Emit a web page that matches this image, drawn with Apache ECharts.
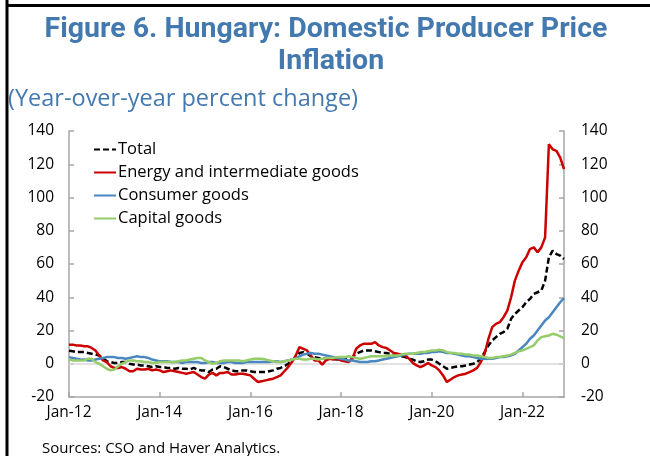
<!DOCTYPE html>
<html>
<head>
<meta charset="utf-8">
<script src="https://cdn.jsdelivr.net/npm/echarts@6/dist/echarts.min.js"></script>
<style>
html,body{margin:0;padding:0;background:#fff;}
#chart{width:650px;height:456px;}
</style>
</head>
<body>
<div id="chart"></div>
<script>
// Monthly, Jan-2012 .. Dec-2022
const startYear = 2012, endYear = 2022;
const monthNames = ["Jan","Feb","Mar","Apr","May","Jun","Jul","Aug","Sep","Oct","Nov","Dec"];
const categories = [];
for (let y = startYear; y <= endYear; y++) {
  for (let m = 0; m < 12; m++) categories.push(monthNames[m] + "-" + String(y).slice(2));
}
const xTickLabels = ["Jan-12","Jan-14","Jan-16","Jan-18","Jan-20","Jan-22"];
const yTicks = [-20, 0, 20, 40, 60, 80, 100, 120, 140];

const total = [
 7.8,7.5,7,7,7,6.5,6,5.5,5,3.5,1.5,1,
 0.5,0.5,1,1,0,-0.5,-0.5,-1,-1,-1.5,-2,-1.5,
 -2,-2,-2.5,-2.5,-3,-2.5,-3,-3,-3.5,-2.5,-3.5,-4,
 -4,-5,-3.5,-3,-1.5,-2,-3,-4,-4.5,-4.5,-4,-4,
 -4.5,-5,-5,-5,-5,-4.5,-4,-3,-2.5,-1.5,0,2,
 4,6.5,7,6,4.5,4,3.5,3,3.5,3.5,3,2.5,
 3,3.5,3.5,4,6,7,8,8,8,7.5,7,6.5,
 6.5,6,5.5,5,4.5,4,3,2.5,1.5,1,1.5,2.5,
 2.5,1.5,0,-1.5,-3,-2.5,-2,-1.5,-1.5,-1,-0.5,0,
 1,3,7,11,14,16,18,19,21,27,30,32,
 34,37,39,42,43,44,50,64,68,66,65,63
];
const energy = [
 11.5,11.5,11,11,10.5,10.5,9.5,8,5,2,1,-1.5,
 -2.5,-2.5,-2,-3,-4.5,-4.5,-3,-3.5,-3.5,-3,-4,-3.5,
 -4,-5,-4.5,-4,-4.5,-5,-5.5,-6,-5.5,-5,-6.5,-8,
 -9,-6.5,-5.5,-7,-5.5,-5.5,-5,-6.5,-6.5,-6,-6,-6.5,
 -7,-9,-11,-10.5,-10,-9.5,-9,-8,-7,-4.5,-2,1,
 5,10,9,8,5,2,2,-0.5,2,3,2.5,3,
 2,1.5,1,3,9,11,12,12,12,13,11,10,
 9.5,8,6.5,6,5.5,5,3,0.5,-1,-2,-1,0.5,
 -1,-2,-4,-7,-11,-9.5,-8,-7,-6.5,-6,-5,-4,
 -2.5,1,6,15,22,24,25,28,32,40,50,56,
 61,64,69,70,67,70,76,132,129,128,124,117
];
const consumer = [
 4,3.5,3,2.5,2.5,2,2,2.5,3,3.5,4,4,
 4,3.5,3.5,3,3.5,4,4.5,4,4,3.5,2.5,2,
 1.5,1.5,1.5,1,1,1,0.5,1,1,1,1,0.5,
 0.5,1,1,0.5,0.5,0.5,1,1,0.5,0.5,0.5,1,
 1,1,1,1,1,1,1.5,1.5,1,1.5,2,2.5,
 3,4.5,5.5,6,6.5,6,6,5.5,5,4.5,4,3.5,
 3,2.5,2,2,1.5,1,1,1,1.5,1.5,2,2.5,
 3,3.5,4,4.5,5,5.5,6,6,6,6,6.5,6.5,
 7,7,7.5,7,6.5,6.5,6,5.5,5,4.5,4.5,4,
 3.5,3,3,3,3,3.5,4,4,4.5,5,6,8,
 10,12,15,17,20,23,26,28,31,34,37,39.5
];
const capital = [
 2.5,2,2,2,2,3,3,1,0,-1.5,-3,-4,
 -3.5,-1.5,0,1,2,2,1.5,1.5,1,1,0.5,0.5,
 1,1,1,1,1,1.5,2,2,2.5,3,3.5,3.5,
 2,1,0,0.5,1.5,2,2,2,2,2,1.5,2,
 2.5,3,3,3,2.5,2,1.5,1,1,1.5,2,2.5,
 3,3,2.5,2.5,3,3,2.5,3,3.5,3.5,3.5,4,
 4,4,4.5,4,3.5,3,3.5,4,4.5,4.5,4.5,4.5,
 4.5,5,5,5,5.5,6,6,6,6.5,7,7,7.5,
 8,8,8.5,8,7,6.5,6.5,6,6,5.5,5.5,5,
 5,4.5,4,3.5,3.5,4,4,4.5,5,5.5,6.5,7.5,
 8,9,10,11,14,16,16.5,17,18,17.5,16.5,15.5
];

const seriesNames = ["Total","Energy and intermediate goods","Consumer goods","Capital goods"];
const seriesColors = ["#000000","#CC0000","#4A86C0","#96CC6A"];

const chart = echarts.init(document.getElementById('chart'), null, {renderer:'canvas'});
const TICK_FONT = 'Open Sans';
const blue = '#4479AF';

function yAxisCfg(pos, margin) {
  return {
    type:'value', position:pos, min:yTicks[0], max:yTicks[yTicks.length-1], interval:20,
    axisLine:{show:true, lineStyle:{color:'#A6A6A6', width:1.5}},
    axisTick:{show:true, inside:true, length:5, lineStyle:{color:'#A6A6A6', width:1.5}},
    axisLabel:{show:true, margin:margin, color:'#000', fontFamily:TICK_FONT, fontSize:15.5},
    splitLine:{show:false}
  };
}

const option = {
  animation:false,
  backgroundColor:'#fff',
  grid:{left:69, right:86, top:131, bottom:59, containLabel:false},
  legend:{
    orient:'vertical', left:93, top:141, padding:0, itemWidth:22, itemHeight:14, itemGap:6,
    itemStyle:{opacity:0},
    textStyle:{fontFamily:TICK_FONT, fontSize:16.5, color:'#000', padding:[0,0,0,-3]},
    data:seriesNames
  },
  xAxis:{
    type:'category', data:categories, boundaryGap:false,
    axisLine:{show:true, onZero:false, lineStyle:{color:'#A6A6A6', width:1.5}},
    axisTick:{show:true, inside:true, length:5, alignWithLabel:true,
      interval:function(i){return i%24===0;}, lineStyle:{color:'#A6A6A6', width:1.5}},
    axisLabel:{interval:function(i){return i%24===0;}, margin:8, color:'#000',
      fontFamily:TICK_FONT, fontSize:15.5,
      formatter:function(v){return xTickLabels.indexOf(v)>=0 ? v : '';}},
    splitLine:{show:false}
  },
  yAxis:[yAxisCfg('left',15), yAxisCfg('right',17)],
  series:[
    {name:seriesNames[0], type:'line', data:total, symbol:'none', z:3,
      lineStyle:{color:seriesColors[0], width:2.5, type:[6,3]}, itemStyle:{color:seriesColors[0]},
      markLine:{silent:true, symbol:'none', label:{show:false}, animation:false, z:1,
        lineStyle:{color:'#D9D9D9', width:1.5, type:'solid'}, data:[{yAxis:0}]}},
    {name:seriesNames[1], type:'line', data:energy, symbol:'none', z:4,
      lineStyle:{color:seriesColors[1], width:2.5}, itemStyle:{color:seriesColors[1]}},
    {name:seriesNames[2], type:'line', data:consumer, symbol:'none', z:4,
      lineStyle:{color:seriesColors[2], width:2.5}, itemStyle:{color:seriesColors[2]}},
    {name:seriesNames[3], type:'line', data:capital, symbol:'none', z:4,
      lineStyle:{color:seriesColors[3], width:2.5}, itemStyle:{color:seriesColors[3]}}
  ],
  graphic:[
    {type:'line', shape:{x1:7, y1:0, x2:7, y2:456}, style:{stroke:'#000', lineWidth:3}, silent:true},
    {type:'line', shape:{x1:6, y1:5.5, x2:650, y2:5.5}, style:{stroke:'#000', lineWidth:3}, silent:true},
    {type:'text', x:326, y:15, style:{text:'Figure 6. Hungary: Domestic Producer Price', fill:blue,
      font:'bold 28.5px Roboto', textAlign:'center', textVerticalAlign:'top'}},
    {type:'text', x:331, y:47, style:{text:'Inflation', fill:blue, font:'bold 28.5px Roboto',
      textAlign:'center', textVerticalAlign:'top'}},
    {type:'text', x:8, y:87, style:{text:'(Year-over-year percent change)', fill:blue, font:'23.5px "Open Sans"', textVerticalAlign:'top'}},
    {type:'text', x:42, y:441, style:{text:'Sources: CSO and Haver Analytics.', fill:'#000', font:'15px "Open Sans"', textVerticalAlign:'top'}}
  ]
};
chart.setOption(option);
</script>
</body>
</html>
